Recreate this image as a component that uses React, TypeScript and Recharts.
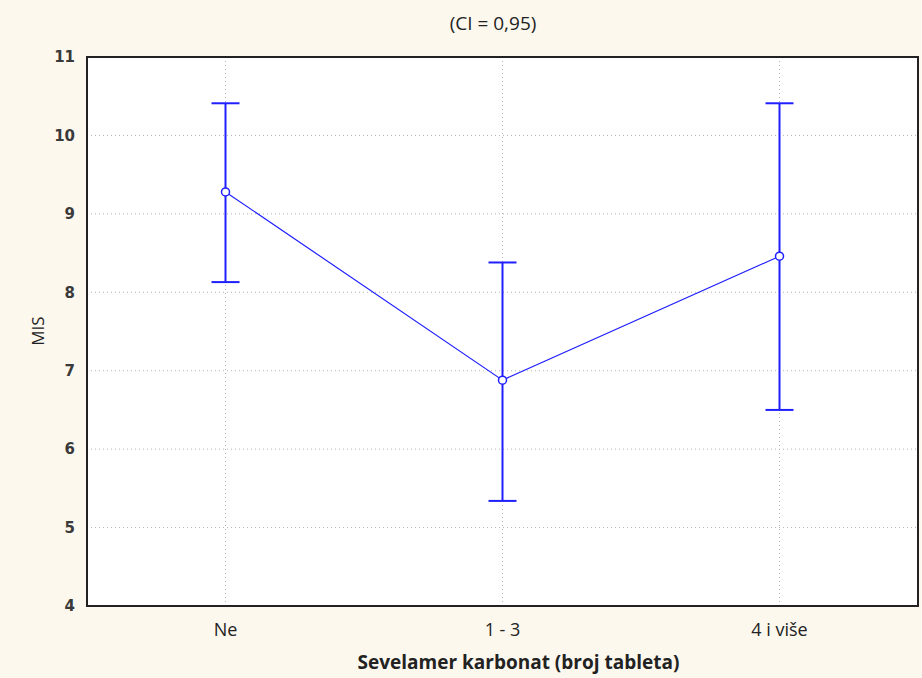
import React from "react";
import {
  ComposedChart,
  Line,
  ErrorBar,
  XAxis,
  YAxis,
  CartesianGrid,
  ReferenceArea,
} from "recharts";

const categories = ["Ne", "1 - 3", "4 i više"];
const means = [9.28, 6.88, 8.46];
const lowerCI = [8.13, 5.34, 6.5];
const upperCI = [10.41, 8.38, 10.41];
const yTicks = [4, 5, 6, 7, 8, 9, 10, 11];

const title = "(CI = 0,95)";
const xTitle = "Sevelamer karbonat (broj tableta)";
const yTitle = "MIS";

const data = categories.map((name, i) => ({
  name,
  mean: means[i],
  err: [means[i] - lowerCI[i], upperCI[i] - means[i]],
}));

const BLUE = "#1f1fff";
const BG = "#fdf8ee";

const YTitle = (props: any) => {
  const vb = props.viewBox || {};
  const cx = vb.x + 37;
  const cy = 331;
  return (
    <text
      x={cx}
      y={cy}
      transform={`rotate(-90, ${cx}, ${cy})`}
      textAnchor="middle"
      dominantBaseline="central"
      fontFamily="Open Sans"
      fontSize={17}
      fill="#222"
    >
      {yTitle}
    </text>
  );
};

const XTitle = (props: any) => {
  const vb = props.viewBox || {};
  const cx = vb.x + vb.width / 2 + 16;
  const cy = 662;
  return (
    <text
      x={cx}
      y={cy}
      textAnchor="middle"
      dominantBaseline="central"
      fontFamily="Open Sans"
      fontWeight="bold"
      fontSize={19}
      fill="#222"
    >
      {xTitle}
    </text>
  );
};

export default function App() {
  return (
    <div
      style={{
        position: "absolute",
        left: 0,
        top: 0,
        width: 922,
        height: 678,
        background: BG,
      }}
    >
      <div
        style={{
          position: "absolute",
          left: 0,
          top: 10,
          width: 986,
          textAlign: "center",
          fontFamily: "Open Sans",
          fontSize: 19,
          color: "#222",
          lineHeight: "26px",
        }}
      >
        {title}
      </div>
      <ComposedChart
        width={922}
        height={678}
        data={data}
        margin={{ top: 57, right: 4, bottom: 0, left: 0 }}
      >
        <CartesianGrid
          stroke="#b5b5b5"
          strokeDasharray="1 3"
          fill="#ffffff"
          fillOpacity={1}
        />
        <XAxis
          dataKey="name"
          type="category"
          scale="band"
          height={72}
          tickSize={0}
          tickMargin={17}
          tickLine={false}
          axisLine={{ stroke: "#222", strokeWidth: 2 }}
          tick={{ fontFamily: "Open Sans", fontSize: 18, fill: "#222" }}
          label={{ content: XTitle }}
        />
        <YAxis
          domain={[4, 11]}
          ticks={yTicks}
          width={87}
          tickSize={0}
          tickMargin={12}
          tickLine={false}
          axisLine={{ stroke: "#222", strokeWidth: 2 }}
          tick={{
            fontFamily: "DejaVu Sans",
            fontSize: 15,
            fontWeight: "bold",
            fill: "#3a3a3a",
          }}
          label={{ content: YTitle }}
        />
        <ReferenceArea
          y1={4}
          y2={11}
          fill="none"
          stroke="#222"
          strokeWidth={2}
          ifOverflow="visible"
        />
        <Line
          dataKey="mean"
          stroke={BLUE}
          strokeWidth={1.2}
          isAnimationActive={false}
          dot={{ r: 4, fill: "#fff", stroke: BLUE, strokeWidth: 1.5 }}
          activeDot={false}
        >
          <ErrorBar
            dataKey="err"
            width={14}
            stroke={BLUE}
            strokeWidth={2}
            direction="y"
            isAnimationActive={false}
          />
        </Line>
      </ComposedChart>
    </div>
  );
}
